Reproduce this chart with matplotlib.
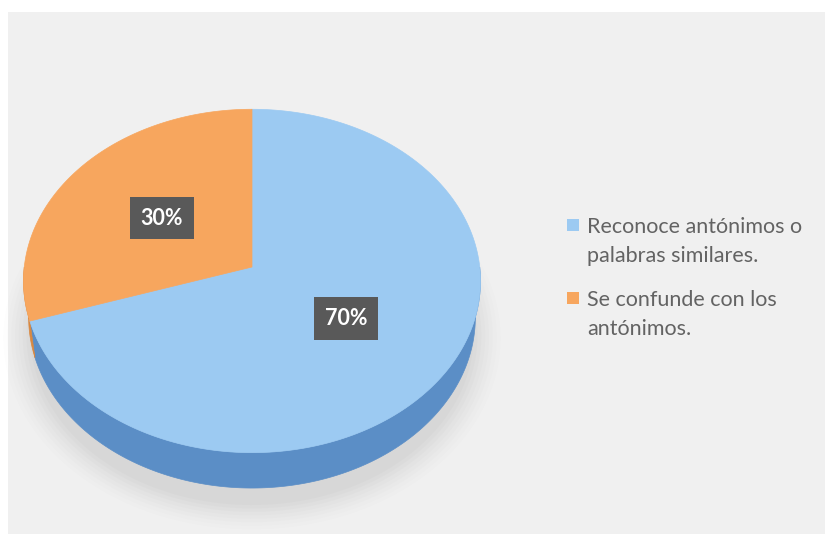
import matplotlib.pyplot as plt
import numpy as np
from matplotlib.patches import Polygon, Rectangle

# datos
labels = ['Reconoce antónimos o\npalabras similares.', 'Se confunde con los\nantónimos.']
values = [70, 30]
top_colors = ['#9ccaf2', '#f7a65e']
side_colors = ['#5b8ec6', '#d98840']
box_texts = ['70%', '30%']

plt.rcParams['font.family'] = ['Lato', 'DejaVu Sans']

W, H = 825, 534
fig = plt.figure(figsize=(W/100, H/100), dpi=100)
fig.patch.set_facecolor('white')
ax = fig.add_axes([0, 0, 1, 1])
ax.set_xlim(0, W); ax.set_ylim(H, 0); ax.axis('off')

# fondo del panel
ax.add_patch(Rectangle((8, 12), W-8, H-12, fc='#f0f0f0', ec='none', zorder=0))

# proyeccion en perspectiva de un disco inclinado
phi = np.radians(48.5); s = np.sin(phi); c = np.cos(phi)
D = 8.15; f = 1856.; cx = 252.; cy = 267.; h = 0.249

def proj(X, Y, Z):
    ys = Y*s + Z*c
    d = D + Y*c - Z*s
    return cx + f*X/d, cy - f*ys/d

def arc(a1, a2, r=1.0, z=0.0, n=200):
    t = np.radians(np.linspace(a1, a2, n))
    return proj(r*np.cos(t), r*np.sin(t), z)

# sombra
for k, a in zip(np.linspace(1.12, 1.0, 8), np.linspace(0.02, 0.05, 8)):
    px, py = arc(0, 360, r=k, z=-h-0.08)
    ax.add_patch(Polygon(np.c_[px, py+6], fc='#9a9a9a', ec='none', alpha=a, zorder=1))

# angulos (sentido horario desde las 12)
fracs = np.array(values)/np.sum(values)
starts = 90 - 360*np.concatenate([[0], np.cumsum(fracs)[:-1]])
ends = starts - 360*fracs

# paredes laterales (solo la mitad frontal)
for a1, a2, col in zip(starts, ends, side_colors):
    lo, hi = min(a1, a2), max(a1, a2)
    for off in (0, 360, -360):
        l2 = max(lo + off, 180); h2 = min(hi + off, 360)
        if h2 > l2:
            tx, ty = arc(l2, h2)
            bx, by = arc(h2, l2, z=-h)
            ax.add_patch(Polygon(np.c_[np.r_[tx, bx], np.r_[ty, by]], fc=col, ec=col, lw=0.5, zorder=2))

# caras superiores
ox, oy = proj(0, 0, 0)
for a1, a2, col in zip(starts, ends, top_colors):
    px, py = arc(a1, a2)
    ax.add_patch(Polygon(np.c_[np.r_[ox, px], np.r_[oy, py]], fc=col, ec=col, lw=0.5, zorder=3))

# etiquetas de datos
for a1, a2, txt in zip(starts, ends, box_texts):
    m = np.radians((a1 + a2)/2)
    lx, ly = proj(0.5*np.cos(m), 0.5*np.sin(m), 0)
    ax.text(lx, ly, txt, ha='center', va='center', color='white', fontsize=15.5,
            fontweight='bold', zorder=5,
            bbox=dict(boxstyle='square,pad=0.5', fc='#595959', ec='none'))

# leyenda
for i, (lab, col) in enumerate(zip(labels, top_colors)):
    base = 233 + 73*i
    ax.add_patch(Rectangle((567, base - 14), 12, 12, fc=col, ec='none', zorder=4))
    for j, line in enumerate(lab.split('\n')):
        ax.text(587, base + 29*j, line, ha='left', va='baseline', fontsize=15.5,
                color='#636363', zorder=4)

plt.savefig('out.png', dpi=100)
